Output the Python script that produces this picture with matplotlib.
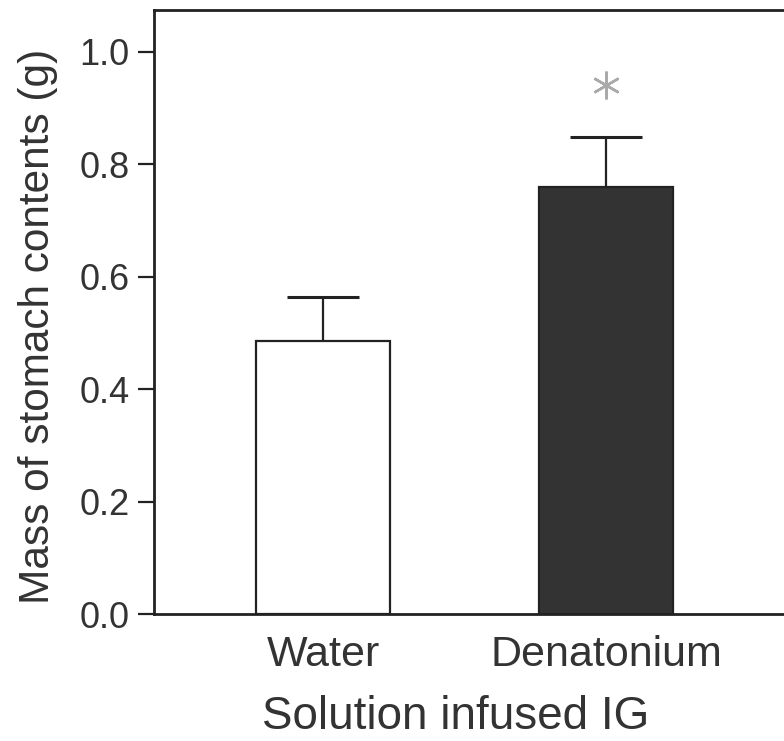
import matplotlib.pyplot as plt

plt.rcParams['font.family'] = ['Liberation Sans', 'DejaVu Sans']

# Data
groups = ['Water', 'Denatonium']
means = [0.485, 0.760]
sem = [0.079, 0.089]
bar_colors = ['white', '#333333']
sig_marks = [None, 0.94]   # asterisk height above each bar (None = not significant)

fig = plt.figure(figsize=(7.84, 7.41), dpi=100)
ax = fig.add_axes([154 / 784, 127 / 741, 1 - 154 / 784, 604 / 741])

x = list(range(len(groups)))
ax.bar(x, means, width=0.473, color=bar_colors, edgecolor='#222222', linewidth=1.6, zorder=2)

# upper-only error bars (stem + cap)
tops = [m + e for m, e in zip(means, sem)]
ax.vlines(x, means, tops, color='#222222', linewidth=1.6, zorder=1)
ax.hlines(tops, [xi - 0.127 for xi in x], [xi + 0.127 for xi in x],
          color='#222222', linewidth=2.2, zorder=1)

# significance asterisk
for xi, ys in zip(x, sig_marks):
    if ys is not None:
        ax.plot(xi, ys, marker=(6, 2, 0), ms=20, mew=1.8, color='#aaaaaa', ls='none')

ax.set_xlim(-0.597, 1.629)
ax.set_ylim(0, 1.074)
ax.set_yticks([0.0, 0.2, 0.4, 0.6, 0.8, 1.0])
ax.set_yticklabels(['%.1f' % v for v in [0.0, 0.2, 0.4, 0.6, 0.8, 1.0]])
ax.set_xticks(x)
ax.set_xticklabels(groups)

for side in ['left', 'bottom', 'top']:
    ax.spines[side].set_linewidth(2)
    ax.spines[side].set_color('#222222')
ax.spines['right'].set_visible(False)

ax.tick_params(axis='y', length=11.5, width=1.6, pad=6, labelsize=26, colors='#222222',
               labelcolor='#333333')
ax.tick_params(axis='x', length=0, pad=15, labelsize=31, labelcolor='#333333')

fig.text(38.5 / 784, 1 - 326 / 741, 'Mass of stomach contents (g)', rotation=90,
         ha='center', va='center', fontsize=30.5, color='#333333')
fig.text(456 / 784, 0.003, 'Solution infused IG', ha='center', va='bottom',
         fontsize=33, color='#333333')

fig.savefig('out.png', dpi=100)
plt.close(fig)
